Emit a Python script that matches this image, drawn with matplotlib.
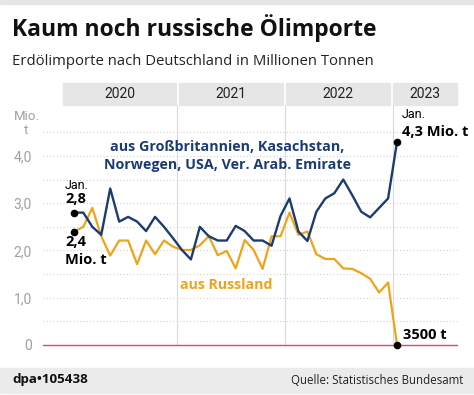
import numpy as np
import matplotlib.pyplot as plt
import matplotlib.transforms as mtransforms
from matplotlib.patches import Rectangle

plt.rcParams['font.family'] = ['Open Sans', 'DejaVu Sans']

# monthly imports Jan 2020 .. Jan 2023, Mio. t
years = ['2020', '2021', '2022', '2023']
other = [2.80, 2.80, 2.50, 2.33, 3.31, 2.61, 2.71, 2.61, 2.41, 2.71, 2.50, 2.26,
         2.01, 1.81, 2.50, 2.30, 2.21, 2.21, 2.52, 2.41, 2.21, 2.21, 2.10, 2.73,
         3.10, 2.40, 2.20, 2.82, 3.10, 3.21, 3.50, 3.17, 2.82, 2.70, 2.90, 3.10,
         4.30]
russia = [2.40, 2.50, 2.90, 2.30, 1.89, 2.21, 2.21, 1.71, 2.21, 1.92, 2.21, 2.08,
          2.01, 2.01, 2.11, 2.30, 1.90, 1.99, 1.62, 2.22, 2.01, 1.61, 2.30, 2.30,
          2.80, 2.33, 2.40, 1.92, 1.82, 1.82, 1.62, 1.61, 1.52, 1.40, 1.11, 1.32,
          0.0035]
yticks = [0, 1, 2, 3, 4]
yticklabels = ['0', '1,0', '2,0', '3,0', '4,0']

blue = '#1b3c72'
orange = '#f0a31a'
narrow = ['Roboto', 'DejaVu Sans']
W, H = 474, 395

x = np.arange(len(other)) + 0.5

fig = plt.figure(figsize=(W / 100, H / 100), dpi=100)
fig.patch.set_facecolor('white')

def fx(p):
    return p / W

def fy(p):
    return 1 - p / H

# top strip and footer band
fig.patches.append(Rectangle((0, fy(4)), 1, 4 / H, transform=fig.transFigure,
                             color='#e6e6e6', zorder=0))
fig.patches.append(Rectangle((0, fy(393)), 1, 25 / H, transform=fig.transFigure,
                             color='#ebebeb', zorder=0))

fig.text(fx(12), fy(36), 'Kaum noch russische Ölimporte', fontsize=16.5,
         fontweight='bold', va='baseline', color='#111111')
fig.text(fx(12), fy(65), 'Erdölimporte nach Deutschland in Millionen Tonnen',
         fontsize=10.7, va='baseline', color='#222222')

ax = fig.add_axes([fx(43), fy(350), (458 - 43) / W, 245 / H])
ax.set_xlim(-3, 43.3)
ax.set_ylim(-0.106, 5.077)
for s in ax.spines.values():
    s.set_visible(False)
ax.set_xticks([])
ax.set_yticks(yticks)
ax.set_yticklabels(yticklabels, family=narrow)
ax.tick_params(axis='y', length=0, pad=8, labelsize=10, labelcolor='#a0a0a0')

# year header boxes
trans = mtransforms.blended_transform_factory(ax.transData, fig.transFigure)
box_edges = [(-0.76, 11.88), (12.22, 23.8), (24.1, 35.7), (36.07, 43.2)]
for (a, b), yr in zip(box_edges, years):
    ax.add_patch(Rectangle((a, fy(105)), b - a, 22 / H, transform=trans,
                           color='#e6e6e6', clip_on=False, zorder=0))
    ax.text((a + b) / 2, fy(94), yr, transform=trans, ha='center', va='center',
            fontsize=10, color='#222222', family=narrow)

ax.hlines(np.arange(0.5, 5, 0.5), -3, 43.3, colors='#d2d2d2',
          linestyles=(0, (1, 2)), lw=0.8, zorder=1)
ax.vlines([12, 24, 36], 0, 5.077, colors='#dadada', lw=0.8, zorder=1)
ax.axhline(0, color='#d94a63', lw=1, zorder=2)

ax.plot(x, russia, color=orange, lw=1.6, zorder=3)
ax.plot(x, other, color=blue, lw=1.7, zorder=4)
ax.scatter([x[0], x[0], x[-1], x[-1]], [other[0], russia[0], other[-1], russia[-1]],
           s=20, color='black', zorder=5, clip_on=False)

# y unit
fig.text(fx(26.5), fy(117), 'Mio.', ha='center', va='center', fontsize=9.5,
         color='#a0a0a0', family=narrow)
fig.text(fx(26.5), fy(130), 't', ha='center', va='center', fontsize=9.5,
         color='#a0a0a0', family=narrow)

# annotations
fig.text(fx(65), fy(185), 'Jan.', va='center', fontsize=9, family=narrow)
fig.text(fx(65), fy(199), '2,8', va='center', fontsize=10.5, fontweight='bold')
fig.text(fx(65), fy(242), '2,4', va='center', fontsize=10.5, fontweight='bold')
fig.text(fx(65), fy(260), 'Mio. t', va='center', fontsize=10.5, fontweight='bold')
fig.text(fx(402), fy(115), 'Jan.', va='center', fontsize=9, family=narrow)
fig.text(fx(402), fy(132), '4,3 Mio. t', va='center', fontsize=10.5, fontweight='bold')
fig.text(fx(403), fy(335), '3500 t', va='center', fontsize=10.5, fontweight='bold')

fig.text(fx(227), fy(147), 'aus Großbritannien, Kasachstan,', ha='center',
         va='center', fontsize=10.3, fontweight='bold', color=blue)
fig.text(fx(227), fy(165), 'Norwegen, USA, Ver. Arab. Emirate', ha='center',
         va='center', fontsize=10.3, fontweight='bold', color=blue)
fig.text(fx(226), fy(285), 'aus Russland', ha='center', va='center',
         fontsize=10.2, fontweight='bold', color=orange)

fig.text(fx(12), fy(380), 'dpa\u2022105438', va='center', fontsize=9.6,
         fontweight='bold', color='#111111')
fig.text(fx(463), fy(380), 'Quelle: Statistisches Bundesamt', ha='right',
         va='center', fontsize=8.3, color='#222222')

fig.savefig('out.png', dpi=100)
